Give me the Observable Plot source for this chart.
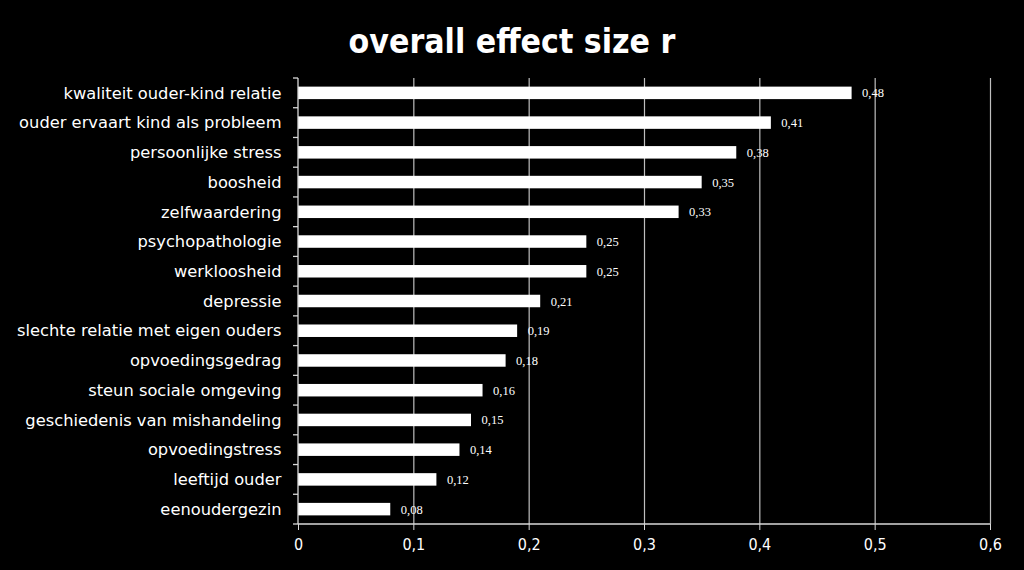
<!DOCTYPE html>
<html>
<head>
<meta charset="utf-8">
<script src="https://cdn.jsdelivr.net/npm/d3@7"></script>
<script src="https://cdn.jsdelivr.net/npm/@observablehq/plot@0.6"></script>
<style>
  html, body { margin: 0; padding: 0; background: #000; }
  #title { height: 70px; line-height: 84px; text-align: center; color: #fff;
    font-family: "DejaVu Sans Condensed", "DejaVu Sans", sans-serif; font-weight: bold; font-size: 33.5px; }
  #chart svg { display: block; }
</style>
</head>
<body>
<div id="title">overall effect size r</div>
<div id="chart"></div>
<script>
const categories = [
  "kwaliteit ouder-kind relatie",
  "ouder ervaart kind als probleem",
  "persoonlijke stress",
  "boosheid",
  "zelfwaardering",
  "psychopathologie",
  "werkloosheid",
  "depressie",
  "slechte relatie met eigen ouders",
  "opvoedingsgedrag",
  "steun sociale omgeving",
  "geschiedenis van mishandeling",
  "opvoedingstress",
  "leeftijd ouder",
  "eenoudergezin"
];
const values = [0.48, 0.41, 0.38, 0.35, 0.33, 0.25, 0.25, 0.21, 0.19, 0.18, 0.16, 0.15, 0.14, 0.12, 0.08];
const xTicks = [0, 0.1, 0.2, 0.3, 0.4, 0.5, 0.6];

const data = categories.map((c, i) => ({category: c, value: values[i]}));
const fmt = v => v === 0 ? "0" : String(v).replace(".", ",");

// category-axis line with ticks at the band boundaries, plus the bottom axis line
function axisLines(index, scales, values, dims) {
  const y = scales.y;
  const step = y.step();
  const bw = y.bandwidth();
  const NS = "http://www.w3.org/2000/svg";
  const g = document.createElementNS(NS, "g");
  const dom = y.domain();
  const ys = dom.map(d => y(d) - (step - bw) / 2);
  ys.push(y(dom[dom.length - 1]) + bw + (step - bw) / 2);
  const x0 = dims.marginLeft;
  const x1 = dims.width - dims.marginRight;
  const yb = dims.height - dims.marginBottom;
  const line = (a, b, c, d) => {
    const l = document.createElementNS(NS, "line");
    l.setAttribute("x1", a); l.setAttribute("y1", b);
    l.setAttribute("x2", c); l.setAttribute("y2", d);
    l.setAttribute("stroke", "#d9d9d9"); l.setAttribute("stroke-width", 1.3);
    g.appendChild(l);
  };
  for (const yy of ys) line(x0 - 5, yy, x0, yy);
  line(x0, ys[0], x0, ys[ys.length - 1]);
  line(x0, yb, x1, yb);
  return g;
}

const chart = Plot.plot({
  width: 1024,
  height: 500,
  marginTop: 8,
  marginBottom: 46,
  marginLeft: 298,
  marginRight: 34,
  style: {background: "#000", color: "#fff", fontFamily: "'DejaVu Sans', sans-serif"},
  x: {domain: [0, 0.6]},
  y: {domain: categories, paddingInner: 0.58, paddingOuter: 0.29, align: 0.5, round: false, label: null},
  marks: [
    Plot.ruleX(xTicks.slice(1), {stroke: "#bfbfbf", strokeWidth: 1.2}),
    Plot.barX(data, {x: "value", y: "category", fill: "#fff"}),
    Plot.text(data, {x: "value", y: "category", text: d => fmt(d.value), textAnchor: "start", dx: 10,
      fill: "#fff", fontSize: 12.5, fontFamily: "'Liberation Serif', serif"}),
    Plot.axisX({ticks: xTicks, tickFormat: fmt, tickSize: 6, tickPadding: 8, fontSize: 16, stroke: "#d9d9d9", label: null, color: "#fff", fontFamily: "'DejaVu Sans Condensed', 'DejaVu Sans', sans-serif"}),
    Plot.axisY({tickSize: 0, tickPadding: 17, fontSize: 16.3, label: null, color: "#fff"}),
    axisLines
  ]
});
document.getElementById("chart").appendChild(chart);
</script>
</body>
</html>
